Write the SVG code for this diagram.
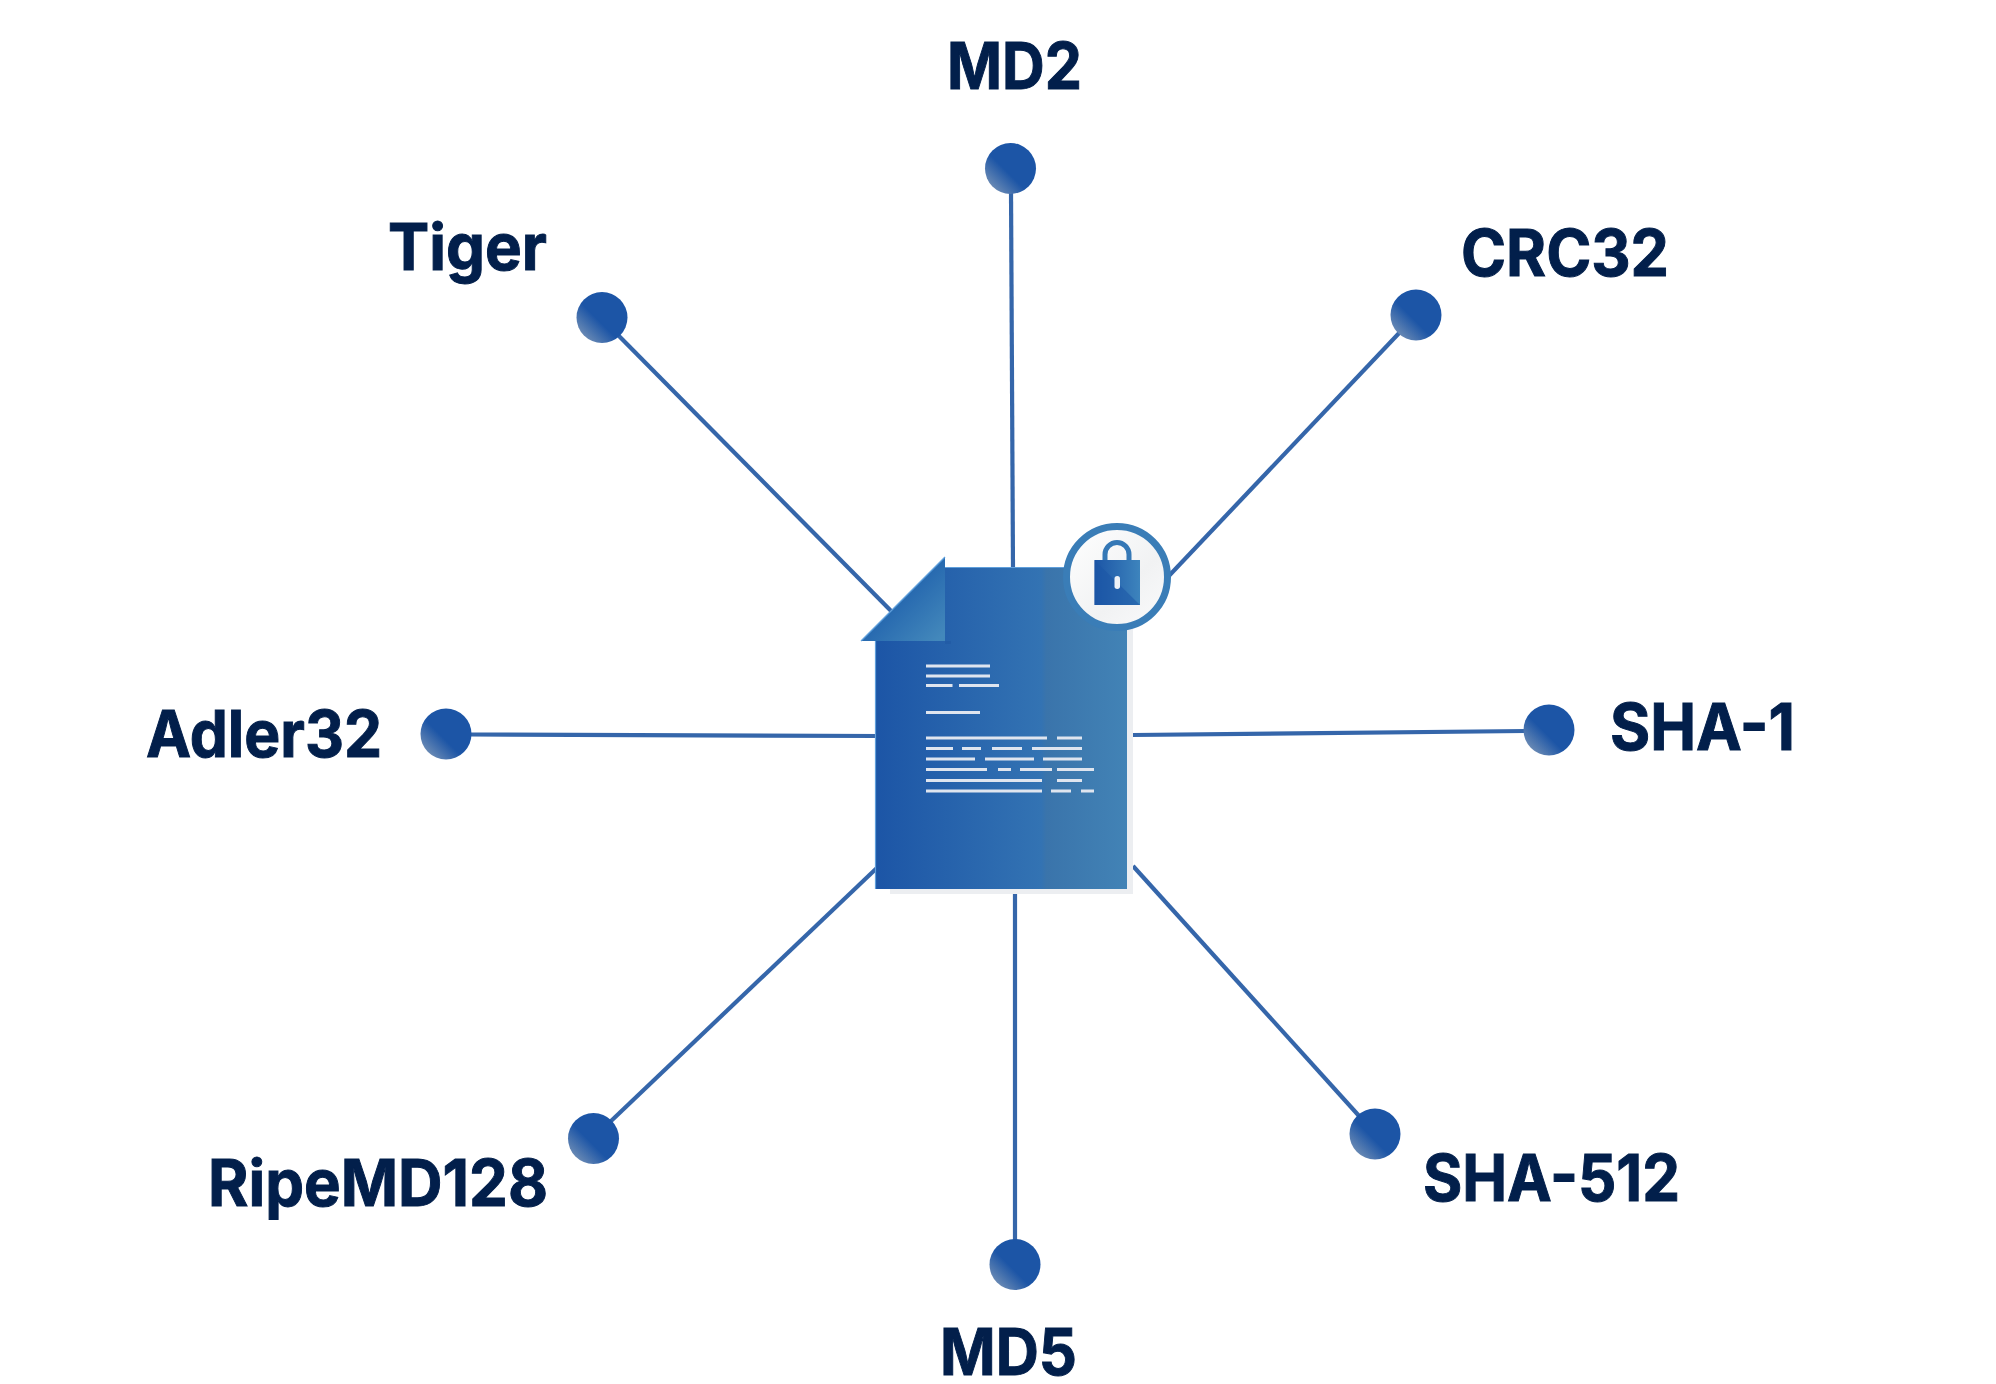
<svg xmlns="http://www.w3.org/2000/svg" width="1996" height="1384" viewBox="0 0 1996 1384">
<style>
.lbl{font-family:"Inter","Liberation Sans",sans-serif;font-weight:700;font-size:64.500px;fill:#021f4b;stroke:#021f4b;stroke-width:1}
.dot{fill:url(#dotg)}
.c line{stroke:#3566aa;stroke-width:4.200}
.t{stroke:#dfe5ef;stroke-width:3;fill:none}
</style>
<defs>
<linearGradient id="dotg" x1="0.1" y1="0.9" x2="0.9" y2="0.1"><stop offset="0" stop-color="#7390b6"/><stop offset="0.42" stop-color="#1c55a6"/><stop offset="1" stop-color="#1c55a6"/></linearGradient>
<linearGradient id="doc" x1="0" y1="0" x2="1" y2="0"><stop offset="0" stop-color="#1c55a6"/><stop offset="0.66" stop-color="#3373b3"/><stop offset="0.68" stop-color="#3a74ab"/><stop offset="1" stop-color="#4283b6"/></linearGradient>
<linearGradient id="fold" x1="0.1" y1="0.1" x2="0.95" y2="0.95"><stop offset="0.25" stop-color="#1c5dab"/><stop offset="1" stop-color="#4388bb"/></linearGradient>
<linearGradient id="lock" x1="0" y1="0" x2="1" y2="0"><stop offset="0" stop-color="#1c55a6"/><stop offset="1" stop-color="#3d84bd"/></linearGradient>
<linearGradient id="disc" x1="0" y1="0" x2="1" y2="1"><stop offset="0" stop-color="#ffffff"/><stop offset="0.6" stop-color="#f1f2f3"/><stop offset="1" stop-color="#fbfbfc"/></linearGradient>
</defs>
<rect width="1996" height="1384" fill="#fff"/>
<g id="connectors" class="c">
<line x1="1011" y1="190" x2="1013" y2="570"/>
<line x1="616" y1="333" x2="900" y2="620"/>
<line x1="1402" y1="330" x2="1165" y2="580"/>
<line x1="470" y1="734.500" x2="880" y2="736"/>
<line x1="1526" y1="731" x2="1133" y2="735"/>
<line x1="610" y1="1122" x2="880" y2="865"/>
<line x1="1360" y1="1117" x2="1133" y2="866"/>
<line x1="1015" y1="1242" x2="1015" y2="894"/>
</g>
<g id="document">
<rect x="890" y="620" width="243" height="274" fill="#eceef1"/>
<polygon points="945,567 1127,567 1127,889 875,889 875,641" fill="url(#doc)"/>
<path d="M945 567.500H1110M875.500 641V889" fill="none" stroke="#5f9fdb" stroke-width="1.200"/>
<rect x="945" y="641" width="6" height="3" fill="#1a4f9c" opacity="0.3"/>
<polygon points="945,557 945,641 861,641" fill="url(#fold)"/>
<path d="M945 557L861 641" fill="none" stroke="#5f9fdb" stroke-width="1.200"/>
<g class="t">
<path d="M926 666H990M926 676H990M926 685.500H952.500M959 685.500H999M926 712.500H980"/>
<path d="M926 738H1047M1057 738H1082M926 748.500H953M962 748.500H981M992 748.500H1022M1032 748.500H1082M926 759H975M985 759H1034M1043 759H1082M926 769.500H987M998 769.500H1011M1020 769.500H1052M1057 769.500H1094M926 780.500H1042M1057 780.500H1082M926 791H1042M1051 791H1071M1081 791H1094"/>
</g>
</g>
<g id="lock-badge">
<circle cx="1117" cy="577" r="50.500" fill="url(#disc)" stroke="#3a7db7" stroke-width="7"/>
<path d="M1105 562V554.500a12 12 0 0 1 24 0V562" fill="none" stroke="#3578b6" stroke-width="5"/>
<rect x="1094.500" y="560" width="45.500" height="45" fill="url(#lock)"/>
<polygon points="1094.500,560 1140,605 1094.500,605" fill="#1c55a6" opacity="0.55"/>
<rect x="1114.500" y="576" width="5.500" height="13" rx="2.700" fill="#eef2f7"/>
</g>
<g id="node-md2"><circle class="dot" cx="1010.500" cy="168.500" r="25.500"/><text class="lbl" x="947" y="89" textLength="135" lengthAdjust="spacingAndGlyphs">MD2</text></g>
<g id="node-tiger"><circle class="dot" cx="602" cy="317.500" r="25.500"/><text class="lbl" x="388" y="270" textLength="159" lengthAdjust="spacingAndGlyphs">Tiger</text></g>
<g id="node-crc32"><circle class="dot" cx="1416" cy="315" r="25.500"/><text class="lbl" x="1461" y="276" textLength="208" lengthAdjust="spacingAndGlyphs">CRC32</text></g>
<g id="node-adler32"><circle class="dot" cx="446" cy="734" r="25.500"/><text class="lbl" x="146" y="757" textLength="236" lengthAdjust="spacingAndGlyphs">Adler32</text></g>
<g id="node-sha1"><circle class="dot" cx="1549" cy="730" r="25.500"/><text class="lbl" x="1610" y="750" textLength="185" lengthAdjust="spacingAndGlyphs">SHA-1</text></g>
<g id="node-ripemd128"><circle class="dot" cx="593.500" cy="1138.500" r="25.500"/><text class="lbl" x="208" y="1206" textLength="340" lengthAdjust="spacingAndGlyphs">RipeMD128</text></g>
<g id="node-sha512"><circle class="dot" cx="1375" cy="1134" r="25.500"/><text class="lbl" x="1423" y="1201" textLength="257" lengthAdjust="spacingAndGlyphs">SHA-512</text></g>
<g id="node-md5"><circle class="dot" cx="1015" cy="1264.500" r="25.500"/><text class="lbl" x="940" y="1375" textLength="137" lengthAdjust="spacingAndGlyphs">MD5</text></g>
</svg>
